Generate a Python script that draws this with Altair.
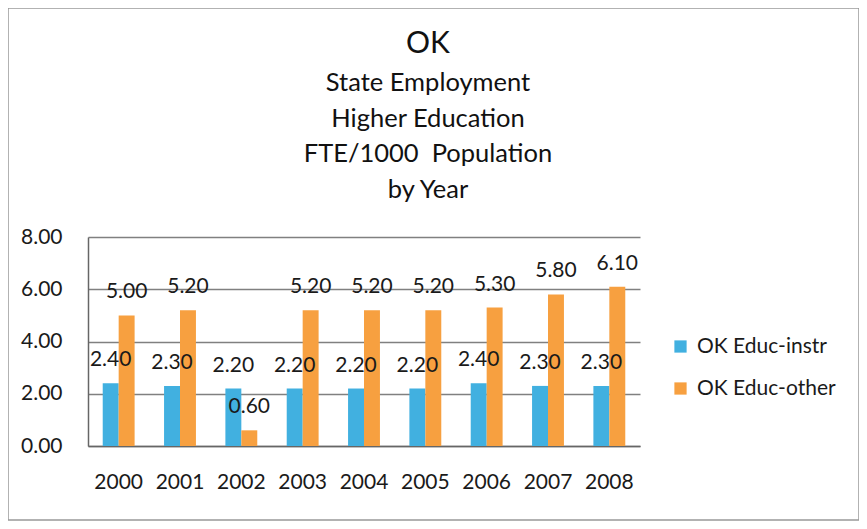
import altair as alt
import pandas as pd

years = ["2000", "2001", "2002", "2003", "2004", "2005", "2006", "2007", "2008"]
instr = [2.40, 2.30, 2.20, 2.20, 2.20, 2.20, 2.40, 2.30, 2.30]
other = [5.00, 5.20, 0.60, 5.20, 5.20, 5.20, 5.30, 5.80, 6.10]
series = ["OK Educ-instr", "OK Educ-other"]
colors = ["#41B0E0", "#F7A040"]

rows = []
for y, a, b in zip(years, instr, other):
    rows.append({"year": y, "series": series[0], "value": a})
    rows.append({"year": y, "series": series[1], "value": b})
df = pd.DataFrame(rows)
df["label"] = df["value"].map(lambda v: f"{v:.2f}")

FONT = "Lato"
W, H = 552, 209

x = alt.X("year:N", sort=years, title=None,
          scale=alt.Scale(paddingInner=0.48, paddingOuter=0.24),
          axis=alt.Axis(labelAngle=0, labelFont=FONT, labelFontSize=21, labelColor="#1a1a1a",
                        labelPadding=25, ticks=False, domainColor="#666", domainWidth=1.5))
y = alt.Y("value:Q", title=None,
          scale=alt.Scale(domain=[0, 8], nice=False),
          axis=alt.Axis(values=[0, 2, 4, 6, 8], format=".2f", labelFont=FONT, labelFontSize=21,
                        labelColor="#1a1a1a", labelPadding=26, ticks=False, gridColor="#808080",
                        gridWidth=1.5, domainColor="#666", domainWidth=1.5))

base = alt.Chart(df).encode(x=x, xOffset=alt.XOffset("series:N", sort=series))

bars = base.mark_bar().encode(
    y=y,
    color=alt.Color("series:N", sort=series, scale=alt.Scale(domain=series, range=colors),
                    legend=alt.Legend(title=None, orient="none", legendX=582, legendY=99,
                                      labelFont=FONT, labelFontSize=21, labelColor="#1a1a1a",
                                      symbolType="square", symbolSize=150, symbolStrokeWidth=0,
                                      rowPadding=20, labelOffset=6)),
)

labels = base.mark_text(font=FONT, fontSize=21, color="#1a1a1a", dy=-23, baseline="middle").encode(
    y=alt.Y("value:Q"), text="label:N"
)

border = alt.Chart(pd.DataFrame({"v": [0]})).mark_rect(
    fill=None, stroke="#999", strokeWidth=1.5
).encode(x=alt.value(-80), x2=alt.value(771), y=alt.value(-229), y2=alt.value(283))

chart = alt.layer(border, bars, labels).properties(
    width=W, height=H,
    padding={"left": 80, "top": 229, "right": 219, "bottom": 75},
    autosize=alt.AutoSizeParams(type="none"),
    title=alt.TitleParams(
        text="OK",
        subtitle=["State Employment", "Higher Education", "FTE/1000\u00a0 Population", "by Year"],
        font=FONT, fontSize=30, fontWeight="normal", color="#111",
        subtitleFont=FONT, subtitleFontSize=25.5, subtitleColor="#111", subtitleLineHeight=35.5,
        subtitlePadding=12, anchor="middle", offset=-196, dx=64,
    ),
).configure_view(stroke=None).configure_axis(grid=True).configure_axisX(grid=False)

chart.save("out.html", embed_options={"renderer": "svg", "actions": False})
